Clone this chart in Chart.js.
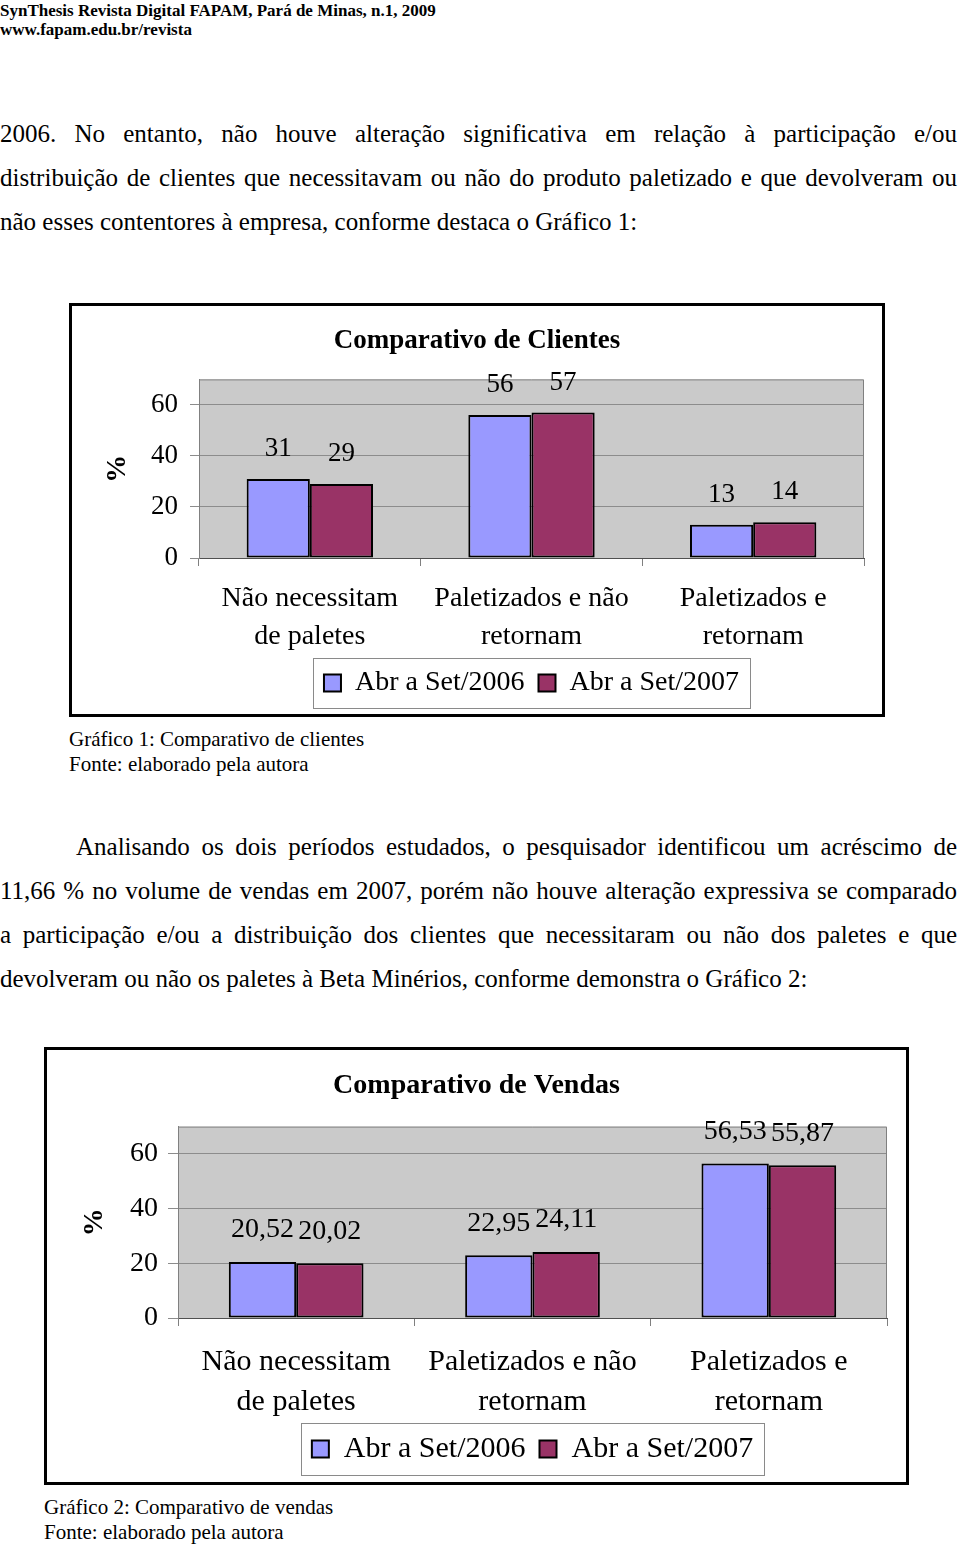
<!DOCTYPE html>
<html lang="pt">
<head>
<meta charset="utf-8">
<title>Comparativo de Clientes e Vendas</title>
<script src="https://cdn.jsdelivr.net/npm/chart.js@4.4.1/dist/chart.umd.min.js"></script>
<style>
  body { margin: 0; background: #fff; }
  #page { position: relative; width: 960px; height: 1545px; font-family: "Liberation Serif", "Times New Roman", serif; color: #000; }
  .abs { position: absolute; }
  .header { left: 0; top: 1px; font-weight: bold; font-size: 17px; line-height: 19px; }
  .para { left: 0; width: 957px; font-size: 25px; line-height: 44px; }
  .para div { white-space: nowrap; text-align: justify; text-align-last: justify; }
  .para div.last { text-align-last: left; }
  .caption { font-size: 21px; line-height: 25px; }
  .chartbox { border: 3px solid #000; background: #fff; }
  .chartbox canvas { display: block; }
</style>
</head>
<body>
<div id="page">
  <div class="abs header">SynThesis Revista Digital FAPAM, Pará de Minas, n.1, 2009<br>www.fapam.edu.br/revista</div>

  <div class="abs para" style="top:112px">
    <div>2006. No entanto, não houve alteração significativa em relação à participação e/ou</div>
    <div>distribuição de clientes que necessitavam ou não do produto paletizado e que devolveram ou</div>
    <div class="last">não esses contentores à empresa, conforme destaca o Gráfico 1:</div>
  </div>

  <div class="abs chartbox" style="left:69px; top:303px; width:810px; height:408px;">
    <canvas id="chartClientes" width="810" height="408"></canvas>
  </div>
  <div class="abs caption" style="left:69px; top:727px;">Gráfico 1: Comparativo de clientes<br>Fonte: elaborado pela autora</div>

  <div class="abs para" style="top:825px">
    <div style="padding-left:76px">Analisando os dois períodos estudados, o pesquisador identificou um acréscimo de</div>
    <div>11,66 % no volume de vendas em 2007, porém não houve alteração expressiva se comparado</div>
    <div>a participação e/ou a distribuição dos clientes que necessitaram ou não dos paletes e que</div>
    <div class="last">devolveram ou não os paletes à Beta Minérios, conforme demonstra o Gráfico 2:</div>
  </div>

  <div class="abs chartbox" style="left:44px; top:1047px; width:859px; height:432px;">
    <canvas id="chartVendas" width="859" height="432"></canvas>
  </div>
  <div class="abs caption" style="left:44px; top:1495px;">Gráfico 2: Comparativo de vendas<br>Fonte: elaborado pela autora</div>
</div>

<script>
// data
const categories = [["Não necessitam", "de paletes"], ["Paletizados e não", "retornam"], ["Paletizados e", "retornam"]];
const seriesNames = ["Abr a Set/2006", "Abr a Set/2007"];
const seriesColors = ["#9999FF", "#993366"];

const clientes2006 = [31, 56, 13];
const clientes2007 = [29, 57, 14];

const vendas2006 = [20.52, 22.95, 56.53];
const vendas2007 = [20.02, 24.11, 55.87];

const yMax = 70;
const yStep = 20;

const FONT = "'Liberation Serif', 'Times New Roman', serif";

// grey plot area + its frame, like the old Excel charts
const plotArea = {
  id: "plotArea",
  beforeDraw(chart) {
    const { ctx, chartArea: a } = chart;
    ctx.save();
    ctx.fillStyle = "#CACACA";
    ctx.fillRect(a.left, a.top, a.right - a.left, a.bottom - a.top);
    ctx.restore();
  },
  beforeDatasetsDraw(chart) {
    const { ctx, chartArea: a } = chart;
    ctx.save();
    ctx.strokeStyle = "#808080";
    ctx.lineWidth = 1;
    ctx.beginPath();
    ctx.moveTo(a.left, a.top + 0.5);
    ctx.lineTo(a.right - 0.5, a.top + 0.5);
    ctx.lineTo(a.right - 0.5, a.bottom);
    ctx.stroke();
    ctx.restore();
  }
};

// value labels above the bars
const valueLabels = {
  id: "valueLabels",
  afterDatasetsDraw(chart, args, opts) {
    const { ctx } = chart;
    ctx.save();
    ctx.font = opts.size + "px " + FONT;
    ctx.fillStyle = "#000";
    ctx.textAlign = "center";
    ctx.textBaseline = "middle";
    chart.data.datasets.forEach((ds, i) => {
      chart.getDatasetMeta(i).data.forEach((bar, j) => {
        ctx.fillText(opts.format(ds.data[j]), bar.x, bar.y - opts.offset);
      });
    });
    ctx.restore();
  }
};

// thin grey frame round the legend
const legendFrame = {
  id: "legendFrame",
  afterDraw(chart, args, opts) {
    const boxes = chart.legend.legendHitBoxes;
    if (!boxes || !boxes.length) return;
    const left = Math.min(...boxes.map(b => b.left)) - opts.padX;
    const right = Math.max(...boxes.map(b => b.left + b.width)) + opts.padX;
    const top = boxes[0].top - opts.padY;
    const bottom = boxes[0].top + boxes[0].height + opts.padY;
    const { ctx } = chart;
    ctx.save();
    ctx.strokeStyle = "#8a8a8a";
    ctx.lineWidth = 1;
    ctx.strokeRect(Math.round(left) + 0.5, Math.round(top) + 0.5, Math.round(right - left), Math.round(bottom - top));
    ctx.restore();
  }
};

function makeChart(id, title, data2006, data2007, s) {
  return new Chart(document.getElementById(id), {
    type: "bar",
    data: {
      labels: categories,
      datasets: [
        { label: seriesNames[0], data: data2006, backgroundColor: seriesColors[0] },
        { label: seriesNames[1], data: data2007, backgroundColor: seriesColors[1] }
      ]
    },
    options: {
      responsive: false,
      animation: false,
      devicePixelRatio: 1,
      // same padding both sides so the title stays centred in the frame
      layout: { padding: { left: s.padSide, right: s.padSide, top: 0, bottom: s.padBottom } },
      datasets: {
        bar: {
          borderColor: "#000",
          borderWidth: 2,
          borderSkipped: false,
          categoryPercentage: 0.57,
          barPercentage: 1.0
        }
      },
      scales: {
        x: {
          afterFit: (scale) => { scale.height = s.xHeight; },
          grid: { drawOnChartArea: false, drawTicks: true, tickLength: 8, color: "#808080", offset: true },
          border: { color: "#505050", width: 1 },
          ticks: {
            color: "#000",
            padding: s.xPad,
            maxRotation: 0,
            autoSkip: false,
            font: { family: FONT, size: s.catFont, lineHeight: s.catLine }
          }
        },
        y: {
          min: 0,
          max: yMax,
          afterFit: (scale) => { scale.width = s.yWidth; },
          grid: { color: "#8C8C8C", tickLength: s.yTick, drawTicks: true },
          border: { color: "#808080", width: 1 },
          ticks: {
            stepSize: yStep,
            includeBounds: false,
            color: "#000",
            padding: s.yPad,
            font: { family: FONT, size: s.tickFont }
          },
          title: {
            display: true,
            text: "%",
            color: "#000",
            padding: { top: s.yTitlePad, bottom: 0 },
            font: { family: FONT, size: 28, weight: "bold", lineHeight: 1.2 }
          }
        }
      },
      plugins: {
        title: {
          display: true,
          text: title,
          color: "#000",
          padding: { top: s.titleTop, bottom: s.titleBottom },
          font: { family: FONT, size: s.titleFont, weight: "bold", lineHeight: 1.2 }
        },
        legend: {
          position: "bottom",
          fullSize: false,
          labels: {
            color: "#000",
            boxWidth: 17,
            boxHeight: 17,
            padding: s.legendPad,
            font: { family: FONT, size: s.legendFont }
          }
        },
        tooltip: { enabled: false },
        valueLabels: { size: s.valueFont, offset: s.valueOffset, format: s.format },
        legendFrame: { padX: 11, padY: s.legendFrameY }
      }
    },
    plugins: [plotArea, valueLabels, legendFrame]
  });
}

makeChart("chartClientes", "Comparativo de Clientes", clientes2006, clientes2007, {
  padSide: 18, padBottom: 7,
  xHeight: 97, xPad: 14, catFont: 28, catLine: 38 / 28,
  yWidth: 109, yTick: 9, yPad: 12, tickFont: 27, yTitlePad: 11,
  titleTop: 19, titleBottom: 22, titleFont: 27,
  legendPad: 14, legendFont: 28, legendFrameY: 11,
  valueFont: 27, valueOffset: 30,
  format: (v) => String(v)
});

makeChart("chartVendas", "Comparativo de Vendas", vendas2006, vendas2007, {
  padSide: 19, padBottom: 8,
  xHeight: 102, xPad: 16, catFont: 30, catLine: 40 / 30,
  yWidth: 112, yTick: 10, yPad: 10, tickFont: 28, yTitlePad: 12,
  titleTop: 19, titleBottom: 24, titleFont: 28,
  legendPad: 14, legendFont: 30, legendFrameY: 11,
  valueFont: 28, valueOffset: 32,
  format: (v) => v.toFixed(2).replace(".", ",")
});
</script>
</body>
</html>
